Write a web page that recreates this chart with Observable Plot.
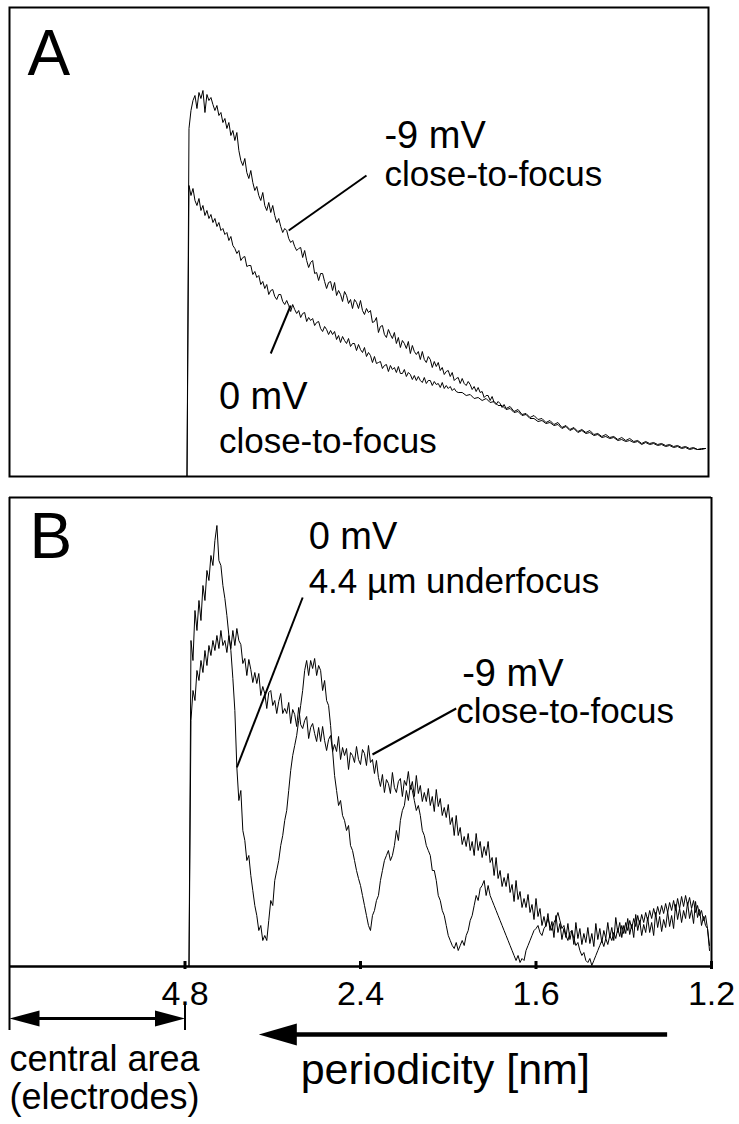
<!DOCTYPE html>
<html>
<head>
<meta charset="utf-8">
<script src="https://cdn.jsdelivr.net/npm/d3@7"></script>
<script src="https://cdn.jsdelivr.net/npm/@observablehq/plot@0.6"></script>
<style>
  html, body { margin: 0; padding: 0; background: #fff; }
  #chart svg { display: block; }
</style>
</head>
<body>
<div id="chart"></div>
<script>
// ---------------- DATA ----------------
// x: radial spatial-frequency bin of the power spectrum (bin = 422.4 / periodicity[nm])
// y: rotationally averaged power, arbitrary units
const binPerInvNm = 422.4;
const periodicityTicks = [4.8, 2.4, 1.6, 1.2];
const periodicityLabels = ["4.8", "2.4", "1.6", "1.2"];

// Panel A: [bin, power]
const curveA_minus9 = [[89,0],[90,348],[91,366],[92,376],[93,381],[94,368],[95,384],[96,378],[97,386],[98,364],[99,382],[100,376],[101,379],[102,372],[103,366],[104,371],[105,361],[106,364],[107,354],[108,358],[109,348],[110,354],[111,341],[112,346],[113,336],[114,344],[115,326],[116,316],[117,311],[118,318],[119,304],[120,298],[121,306],[122,294],[123,286],[124,290],[125,281],[126,276],[127,284],[128,271],[129,266],[130,274],[131,264],[132,271],[133,261],[134,254],[135,258],[136,250],[137,244],[138,248],[139,246],[140,238],[141,234],[142,236],[143,230],[144,226],[145,228],
[146,229],[147,219],[148,226],[149,216],[150,209],[151,214],[152,216],[153,203],[154,204],[155,196],[156,203],[157,203],[158,195],[159,188],[160,194],[161,195],[162,186],[163,194],[164,181],[165,186],[166,182],[167,175],[168,185],[169,181],[170,173],[171,177],[172,168],[173,177],[174,174],[175,168],[176,176],[177,166],[178,162],[179,168],[180,164],[181,166],[182,154],[183,155],[184,159],[185,144],[186,150],[187,151],[188,142],[189,139],[190,147],[191,142],[192,138],[193,144],[194,133],[195,139],[196,129],[197,136],[198,133],[199,128],[200,135],[201,123],[202,131],[203,125],[204,122],[205,125],[206,117],[207,125],[208,117],[209,114],[210,120],[211,117],[212,109],[213,115],[214,110],[215,114],[216,106],[217,109],[218,102],[219,105],[220,106],[221,100],[222,104],[223,96],[224,98],[225,99],[226,93],[227,98],[228,93],[229,91],[230,95],[231,92],[232,87],[233,90],[234,85],[235,89],[236,84],[237,85],[238,79],[239,81],[240,81],[241,76],[242,80],[243,74],[244,72],[245,75],[246,73],[247,69],[248,72],[249,68],[250,69],
[251,70],[253,65],[255,67],[257,62],[259,63],[261,59],[263,61],[265,57],[267,58],[269,54],[271,56],[273,52],[275,54],[277,49],[279,51],[281,47],[283,49],[285,45],[287,47],[289,44],[291,46],[293,42],[295,43],[297,40],[299,42],[301,39],[303,40],[305,37],[307,39],[309,36],[311,38],[313,35],[315,36],[317,33],[319,35],[321,33],[323,34],[325,32],[327,33],[329,31],[331,32],[333,30],[335,31],[337,29],[339,30],[341,28],[343,29],[345,27],[347,28],[349,28]];

const curveA_zero = [[89,0],[90,291],[91,281],[92,288],[93,276],[94,271],[95,278],[96,266],[97,271],[98,261],[99,266],[100,258],[101,262],[102,254],[103,258],[104,250],[105,254],[106,246],[107,248],[108,242],[109,244],[110,236],[111,240],[112,231],[113,228],
[114,223],[115,226],[116,216],[117,219],[118,220],[119,210],[120,211],[121,211],[122,202],[123,205],[124,199],[125,201],[126,192],[127,195],[128,188],[129,192],[130,182],[131,186],[132,187],[133,180],[134,177],[135,182],[136,182],[137,175],[138,172],[139,176],[140,171],[141,165],[142,172],[143,167],[144,163],[145,166],[146,159],[147,163],[148,164],[149,155],[150,159],[151,156],[152,158],[153,151],[154,154],[155,155],[156,148],[157,145],[158,150],[159,147],[160,142],[161,146],[162,142],[163,145],[164,137],[165,141],[166,134],[167,140],[168,136],[169,133],[170,138],[171,130],[172,133],[173,133],[174,126],[175,132],[176,127],[177,124],[178,129],[179,120],[180,124],[181,121],[182,114],[183,120],[184,113],[185,114],[186,115],[187,108],[188,111],[189,112],[190,105],[191,111],[192,107],[193,109],[194,104],[195,110],[196,103],[197,103],[198,107],[199,100],[200,104],[201,102],[202,97],[203,101],[204,96],[205,100],[206,96],[207,94],[208,99],[209,93],[210,96],[211,96],[212,91],[213,95],[214,92],[215,93],[216,89],[217,94],[218,88],[219,91],[220,88],[221,90],[222,86],[223,88],[224,85],
[225,84],[227,84],[229,81],[231,82],[233,78],[235,79],[237,76],[239,78],[241,74],[243,75],[245,71],[247,71],[249,67],[251,68],[253,64],[255,65],[257,61],[259,62],[261,58],[263,58],[265,55],[267,56],[269,53],[271,54],[273,51],[275,52],[277,48],[279,50],[281,46],[283,48],[285,44],[287,46],[289,43],[291,44],[293,41],[295,42],[297,39],[299,40],[301,38],[303,39],[305,36],[307,37],[309,35],[311,36],[313,34],[315,35],[317,32],[319,34],[321,32],[323,33],[325,31],[327,32],[329,30],[331,31],[333,29],[335,30],[337,28],[339,29],[341,27],[343,28],[345,27],[347,27],[349,28]];

// Panel B: one value per bin, starting at bin 90
const firstBinB = 90;
const curveB_zeroUnder = [0,326,306,356,336,366,346,381,366,396,386,411,401,426,441,406,401,381,368,351,331,316,288,256,199,166,176,136,126,106,111,91,76,61,51,36,41,26,31,26,46,66,61,86,96,106,121,131,146,156,176,196,211,221,231,246,261,276,296,306,291,306,298,308,291,301,296,276,286,266,261,241,216,191,176,161,166,151,146,136,141,121,116,106,96,88,81,71,61,51,41,36,51,56,66,71,86,96,106,111,116,106,111,121,136,126,146,156,161,176,166,181,176,166,156,161,151,136,131,121,116,111,96,96,86,71,66,56,51,41,31,26,21,18,24,16,21,26,21,31,36,46,51,61,71,66,78,81,86,71,81,71,66,61,56,51,46,41,36,31,26,21,16,11,6,11,4,8,6,16,21,26,31,36,38,41,34,31,38,41,48,41,36,44,48,54,46,38,41,31,26,34,36,28,21,24,16,11,14,6,4,8,1,6,11,16,21,26,20,28,22,31,26,34,28,38,30,41,33,44,36,46,38,48,40,51,42,52,44,54,46,56,48,58,50,60,52,61,53,63,54,64,56,66,56,68,58,70,60,71,61,69,58,66,54,61,51,56,46,51,38,21];

const curveB_minus9 = [0,246,276,266,296,286,306,294,316,301,321,311,326,316,331,318,336,321,326,314,331,318,336,321,338,326,
322,303,308,291,307,297,284,294,283,293,271,280,273,258,274,276,261,266,253,265,273,253,258,253,264,243,257,252,240,259,242,238,246,250,228,239,243,233,225,239,225,240,226,216,227,231,215,222,215,230,207,219,211,218,197,214,211,204,220,207,202,217,213,201,221,204,207,193,206,189,180,192,174,187,183,173,194,179,174,185,188,170,186,181,
195,177,185,170,191,173,181,165,174,165,178,161,170,155,177,160,168,151,159,149,162,142,149,131,151,131,139,122,130,120,133,116,125,111,133,116,125,109,120,111,125,104,109,91,109,88,96,80,89,80,93,74,82,65,86,67,75,59,68,59,72,54,62,47,68,50,58,41,50,40,53,36,45,29,51,34,43,27,38,29,43,27,36,22,44,28,38,22,33,24,39,23,33,20,43,27,38,24,36,28,44,29,39,26,49,34,44,29,41,33,48,32,42,29,52,36,46,31,42,34,49,34,44,31,54,39,50,35,47,39,55,40,51,38,62,47,58,44,56,48,64,48,57,43,65,49,57,41,50,41,38,16];

// ---------------- LAYOUT (positions in data units) ----------------
const fontFamily = '"Liberation Sans", Arial, Helvetica, sans-serif';
const panelLetters = { A: { bin: 9, level: 402 }, B: { bin: 10, level: 409 } };

const labelsA = [
  { bin: 188, level: 329, text: "-9 mV", big: true },
  { bin: 188, level: 291, text: "close-to-focus", big: false },
  { bin: 105, level: 68, text: "0 mV", big: true },
  { bin: 105, level: 24, text: "close-to-focus", big: false }
];
const leadersA = [
  { x1: 140, y1: 246, x2: 179, y2: 301 },
  { x1: 141, y1: 171, x2: 131, y2: 123 }
];
const labelsB = [
  { bin: 150, level: 418, text: "0 mV", big: true },
  { bin: 150, level: 374, text: "4.4 µm underfocus", big: false },
  { bin: 227, level: 281, text: "-9 mV", big: true },
  { bin: 224, level: 244, text: "close-to-focus", big: false }
];
const leadersB = [
  { x1: 147, y1: 369, x2: 114, y2: 199 },
  { x1: 224, y1: 258, x2: 182, y2: 212 }
];
const centralArea = { from: 0, to: 88, level: -52, tickTop: -39, low: -64 };
const periodArrow = { tip: 125, shaftFrom: 140, shaftTo: 330, level: -68 };
const bottomTexts = [
  { bin: 0, level: -104, text: "central area", size: 36 },
  { bin: 0, level: -142, text: "(electrodes)", size: 36 },
  { bin: 146, level: -117, text: "periodicity [nm]", size: 43 }
];

// ---------------- HELPERS ----------------
function headSymbol(dir, len, half) {
  return {
    draw(ctx) {
      ctx.moveTo(0, 0);
      ctx.lineTo(-dir * len, -half);
      ctx.lineTo(-dir * len, half);
      ctx.closePath();
    }
  };
}
const textOpts = (size) => ({
  x: "bin", y: "level", text: "text", textAnchor: "start", lineAnchor: "bottom",
  fontSize: size, fontFamily, fill: "black"
});

const W = 739;

// ---------------- PANEL A ----------------
const plotA = Plot.plot({
  width: W, height: 484,
  marginTop: 7, marginBottom: 8, marginLeft: 9, marginRight: 31,
  x: { domain: [0, 350.5], axis: null },
  y: { domain: [0, 469], axis: null },
  style: { fontFamily, background: "white", color: "black" },
  marks: [
    Plot.frame({ stroke: "black", strokeWidth: 2 }),
    Plot.line(curveA_minus9, { x: d => d[0], y: d => d[1], stroke: "black", strokeWidth: 1 }),
    Plot.line(curveA_zero, { x: d => d[0], y: d => d[1], stroke: "black", strokeWidth: 1 }),
    Plot.link(leadersA, { x1: "x1", y1: "y1", x2: "x2", y2: "y2", stroke: "black", strokeWidth: 2 }),
    Plot.text([{ ...panelLetters.A, text: "A" }], textOpts(64)),
    Plot.text(labelsA.filter(d => d.big), textOpts(38)),
    Plot.text(labelsA.filter(d => !d.big), textOpts(35))
  ]
});

// ---------------- PANEL B ----------------
const tickData = periodicityTicks.map((p, i) => ({ bin: binPerInvNm / p, label: periodicityLabels[i] }));

const plotB = Plot.plot({
  width: W, height: 640,
  marginTop: 13, marginBottom: 158, marginLeft: 9, marginRight: 28,
  x: { domain: [0, 352], axis: null },
  y: { domain: [0, 469], axis: null },
  style: { fontFamily, background: "white", color: "black" },
  marks: [
    Plot.ruleY([469], { stroke: "black", strokeWidth: 2 }),
    Plot.ruleX([352], { y1: 0, y2: 469, stroke: "black", strokeWidth: 2 }),
    Plot.ruleX([0], { y1: centralArea.low, y2: 469, stroke: "black", strokeWidth: 2 }),
    Plot.line(curveB_minus9, { x: (d, i) => firstBinB + i, y: d => d, stroke: "black", strokeWidth: 1 }),
    Plot.line(curveB_zeroUnder, { x: (d, i) => firstBinB + i, y: d => d, stroke: "black", strokeWidth: 1 }),
    Plot.ruleY([0], { stroke: "black", strokeWidth: 2.5 }),
    Plot.ruleX(tickData, { x: "bin", y1: -3, y2: 5, stroke: "black", strokeWidth: 3 }),
    Plot.text(tickData, { x: "bin", frameAnchor: "bottom", dy: 14, text: "label", lineAnchor: "top", fontSize: 34, fontFamily, fill: "black" }),
    Plot.link(leadersB, { x1: "x1", y1: "y1", x2: "x2", y2: "y2", stroke: "black", strokeWidth: 2 }),
    Plot.text([{ ...panelLetters.B, text: "B" }], textOpts(64)),
    Plot.text(labelsB.filter(d => d.big), textOpts(38)),
    Plot.text(labelsB.filter(d => !d.big), textOpts(35)),
    // central area bracket
    Plot.ruleY([centralArea.level], { x1: centralArea.from + 6, x2: centralArea.to - 6, stroke: "black", strokeWidth: 3 }),
    Plot.ruleX([centralArea.to], { y1: centralArea.low, y2: centralArea.tickTop, stroke: "black", strokeWidth: 2 }),
    Plot.dot([{ bin: centralArea.from, level: centralArea.level }], { x: "bin", y: "level", r: 5, symbol: headSymbol(-1, 30, 8), fill: "black", stroke: "none" }),
    Plot.dot([{ bin: centralArea.to, level: centralArea.level }], { x: "bin", y: "level", r: 5, symbol: headSymbol(1, 30, 8), fill: "black", stroke: "none" }),
    // periodicity arrow
    Plot.ruleY([periodArrow.level], { x1: periodArrow.shaftFrom, x2: periodArrow.shaftTo, stroke: "black", strokeWidth: 4.5 }),
    Plot.dot([{ bin: periodArrow.tip, level: periodArrow.level }], { x: "bin", y: "level", r: 5, symbol: headSymbol(-1, 38, 11), fill: "black", stroke: "none" }),
    Plot.text(bottomTexts.filter(d => d.size === 36), textOpts(36)),
    Plot.text(bottomTexts.filter(d => d.size === 43), textOpts(43))
  ]
});

const chart = document.getElementById("chart");
chart.appendChild(plotA);
chart.appendChild(plotB);
</script>
</body>
</html>
